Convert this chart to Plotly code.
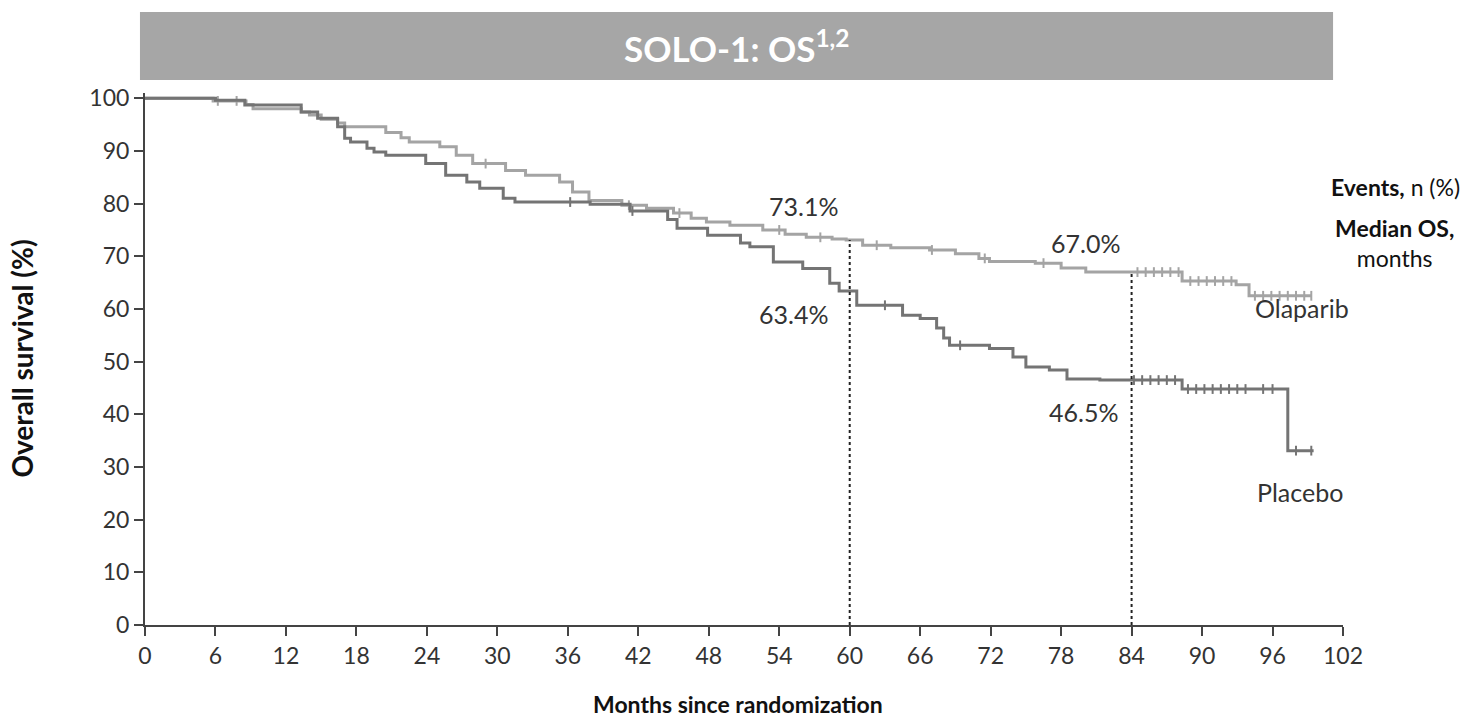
import numpy as np
import plotly.graph_objects as go

# ---- Data ----
olaparib_months = [0, 5.8, 8.6, 9.2, 13.3, 14.0, 15.0, 16.4, 17.0, 20.5, 21.8, 22.5, 25.1, 26.5, 27.9,
                   30.7, 32.4, 35.3, 36.4, 37.8, 40.6, 42.7, 45.0, 46.5, 47.8, 49.8, 52.6, 54.5, 56.3,
                   58.5, 59.7, 61.1, 63.5, 66.8, 69.0, 71.0, 71.9, 75.8, 78.0, 80.1, 88.3, 92.9, 94.0]
olaparib_pct = [100, 99.5, 98.8, 98.0, 97.4, 96.8, 96.0, 95.3, 94.6, 93.5, 92.5, 91.7, 90.8, 89.2, 87.6,
                86.3, 85.4, 84.1, 82.2, 80.6, 79.7, 79.1, 78.2, 77.2, 76.5, 75.9, 75.0, 74.2, 73.6,
                73.3, 73.1, 72.1, 71.6, 71.2, 70.5, 69.6, 69.0, 68.7, 67.8, 67.0, 65.3, 64.6, 62.5]
olaparib_end = 99.3
olaparib_censor = [6.2, 7.8, 29.0, 41.2, 45.5, 54.0, 57.5, 62.3, 67.0, 71.5, 76.5, 84.5, 85.2, 85.9,
                   86.6, 87.3, 88.0, 89.0, 89.7, 90.4, 91.1, 91.8, 92.5, 94.5, 95.2, 95.9, 96.6, 97.3,
                   98.0, 98.7, 99.3]

placebo_months = [0, 6.0, 8.5, 13.3, 14.7, 16.4, 17.0, 17.5, 18.9, 19.5, 20.5, 23.9, 25.6, 27.4, 28.5,
                  30.5, 31.5, 37.9, 41.3, 44.5, 45.3, 47.9, 50.7, 51.5, 53.5, 56.0, 58.3, 59.1, 60.6,
                  64.5, 66.0, 67.4, 68.0, 68.5, 71.9, 73.9, 75.0, 77.0, 78.5, 81.3, 88.3, 97.3]
placebo_pct = [100, 99.6, 98.7, 97.4, 96.2, 94.6, 92.4, 91.7, 90.5, 89.8, 89.2, 87.6, 85.4, 84.1, 82.9,
               81.0, 80.3, 79.9, 78.6, 77.0, 75.3, 74.0, 72.5, 71.8, 68.9, 67.7, 64.9, 63.4, 60.7,
               58.8, 58.2, 56.4, 54.5, 53.1, 52.5, 50.9, 49.0, 48.4, 46.7, 46.5, 44.8, 33.1]
placebo_end = 99.5
placebo_censor = [36.2, 41.5, 63.0, 69.4, 84.2, 84.9, 85.6, 86.3, 87.0, 87.7, 88.8, 89.5, 90.2, 90.9,
                  91.6, 92.3, 93.0, 93.7, 95.2, 96.0, 98.0, 99.3]

x_ticks = list(range(0, 103, 6))
y_ticks = list(range(0, 101, 10))

landmarks = [60, 84]
olaparib_landmark = [73.1, 67.0]
placebo_landmark = [63.4, 46.5]

OLA_COLOR = "#a4a4a4"
PBO_COLOR = "#747474"
TXT = "#333333"
FONT = "Lato"


def step_value(months, pct, t):
    idx = np.searchsorted(np.array(months), t, side="right") - 1
    return pct[max(idx, 0)]


fig = go.Figure()

for months, pct, end, censor, color, name in [
    (olaparib_months, olaparib_pct, olaparib_end, olaparib_censor, OLA_COLOR, "Olaparib"),
    (placebo_months, placebo_pct, placebo_end, placebo_censor, PBO_COLOR, "Placebo"),
]:
    xs = list(months) + [end]
    ys = list(pct) + [pct[-1]]
    fig.add_trace(go.Scatter(x=xs, y=ys, mode="lines", line=dict(color=color, width=3, shape="hv"),
                             name=name, showlegend=False, hoverinfo="skip"))
    cy = [step_value(months, pct, t) for t in censor]
    fig.add_trace(go.Scatter(x=censor, y=cy, mode="markers",
                             marker=dict(symbol="line-ns-open", size=7, color=color,
                                         line=dict(color=color, width=2)),
                             showlegend=False, hoverinfo="skip"))

# Landmark dashed lines
for lm, top in zip(landmarks, olaparib_landmark):
    fig.add_shape(type="line", x0=lm, x1=lm, y0=0, y1=top, xref="x", yref="y",
                  line=dict(color="#222222", width=2, dash="dot"))

annotations = [
    dict(x=56.1, y=79.5, text=f"{olaparib_landmark[0]:.1f}%"),
    dict(x=55.25, y=59.0, text=f"{placebo_landmark[0]:.1f}%"),
    dict(x=80.1, y=72.5, text=f"{olaparib_landmark[1]:.1f}%"),
    dict(x=79.9, y=40.4, text=f"{placebo_landmark[1]:.1f}%"),
    dict(x=98.5, y=60.2, text="Olaparib"),
    dict(x=98.3, y=25.2, text="Placebo"),
]
for a in annotations:
    fig.add_annotation(x=a["x"], y=a["y"], xref="x", yref="y", text=a["text"], showarrow=False,
                       font=dict(family=FONT, size=25, color=TXT), xanchor="center", yanchor="middle")

fig.add_annotation(x=1.0993, y=0.8233, xref="paper", yref="paper", text="<b>Events,</b> n (%)",
                   showarrow=False, font=dict(family=FONT, size=23, color="#111111"),
                   xanchor="right", yanchor="middle")
fig.add_annotation(x=1.0434, y=0.718, xref="paper", yref="paper", text="<b>Median OS,</b><br>months",
                   showarrow=False, font=dict(family=FONT, size=23, color="#111111"),
                   xanchor="center", yanchor="middle", align="center")

# Title bar
fig.add_shape(type="rect", xref="paper", yref="paper", x0=-0.0042, x1=0.9917, y0=1.0244, y1=1.1523,
              fillcolor="#a6a6a6", line=dict(width=0), layer="below")
fig.add_annotation(xref="paper", yref="paper", x=0.494, y=1.088, text="<b>SOLO-1: OS<sup>1,2</sup></b>",
                   showarrow=False, font=dict(family=FONT, size=35, color="white"),
                   xanchor="center", yanchor="middle")

# Axis titles
fig.add_annotation(xref="paper", yref="paper", x=0.495, y=-0.149, text="<b>Months since randomization</b>",
                   showarrow=False, font=dict(family=FONT, size=23, color="#111111"),
                   xanchor="center", yanchor="middle")
fig.add_annotation(xref="paper", yref="paper", x=-0.103, y=0.5, text="<b>Overall survival (%)</b>",
                   showarrow=False, textangle=-90, font=dict(family=FONT, size=28, color="#111111"),
                   xanchor="center", yanchor="middle")

fig.update_layout(
    width=1468, height=719,
    margin=dict(l=145, r=125, t=93, b=94),
    paper_bgcolor="white", plot_bgcolor="white",
    font=dict(family=FONT, size=20, color=TXT),
    xaxis=dict(range=[0, 102], tickvals=x_ticks, ticktext=[str(v) for v in x_ticks],
               showline=True, linecolor="#444444", linewidth=2, ticks="outside", ticklen=9,
               tickwidth=2, tickcolor="#444444", showgrid=False, zeroline=False,
               tickfont=dict(family=FONT, size=23, color=TXT)),
    yaxis=dict(range=[0, 101], tickvals=y_ticks, ticktext=[str(v) for v in y_ticks],
               showline=True, linecolor="#444444", linewidth=2, ticks="outside", ticklen=9,
               tickwidth=2, tickcolor="#444444", showgrid=False, zeroline=False,
               tickfont=dict(family=FONT, size=23, color=TXT)),
)

fig.write_html("out.html")
